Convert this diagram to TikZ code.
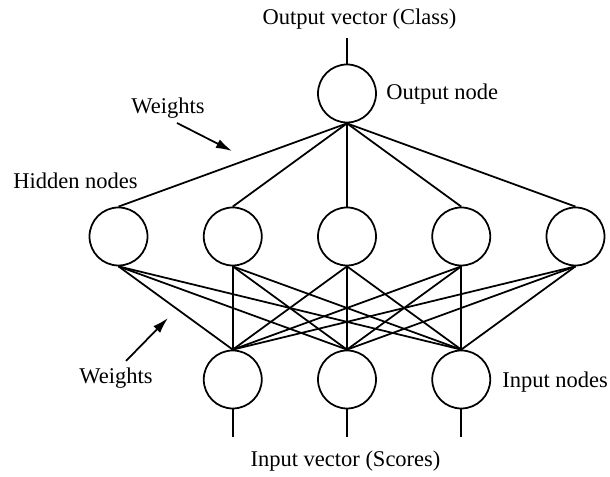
\documentclass[tikz,border=0pt]{standalone}
\usepackage{fontspec}
\setmainfont{Liberation Serif}
\usetikzlibrary{arrows.meta}

\tikzset{
  neuron/.style={draw, circle, line width=1pt, minimum size=1.16cm, inner sep=0pt},
  wire/.style={line width=1pt},
  lbl/.style={inner sep=0pt, font=\fontsize{12.8}{15}\selectfont},
  pointer/.style={line width=1pt, -{Latex[length=3.2mm,width=1.9mm]}}
}

\begin{document}
\begin{tikzpicture}
        \useasboundingbox (0,0) rectangle (12.2,9.54);

        % Output layer
        \node[neuron] (out) at (6.94,7.67) {};
        \coordinate (outend) at (6.94,8.78);
        \draw[wire] (out.north) -- (outend);

        % Hidden layer
        \foreach \i/\x in {1/2.37, 2/4.655, 3/6.94, 4/9.225, 5/11.51} {
            \node[neuron] (h\i) at (\x,4.81) {};
            \draw[wire] (out.south) -- (h\i.north);
        }

        % Input layer
        \foreach \j/\x in {1/4.655, 2/6.94, 3/9.225} {
            \node[neuron] (in\j) at (\x,1.95) {};
            \coordinate (inend\j) at (\x,0.8);
            \draw[wire] (in\j.south) -- (inend\j);
            \foreach \i in {1,...,5}
                \draw[wire] (h\i.south) -- (in\j.north);
        }

        % Labels
        \node[lbl, anchor=base] (outvec) at (7.19,9.04) {Output vector (Class)};
        \node[lbl, anchor=base west] (outlbl) at (7.72,7.54) {Output node};
        \node[lbl, anchor=base west] (wtop) at (2.62,7.26) {Weights};
        \node[lbl, anchor=base west] (hidlbl) at (0.26,5.76) {Hidden nodes};
        \node[lbl, anchor=base west] (wbot) at (1.58,1.86) {Weights};
        \node[lbl, anchor=base west] (inlbl) at (10.04,1.78) {Input nodes};
        \node[lbl, anchor=base] (invec) at (6.91,0.2) {Input vector (Scores)};

        % Weight pointers
        \coordinate (wtopstart) at (3.54,7.08);
        \coordinate (wtoptip) at (4.64,6.52);
        \draw[pointer] (wtopstart) -- (wtoptip);
        \coordinate (wbotstart) at (2.52,2.32);
        \coordinate (wbottip) at (3.36,3.18);
        \draw[pointer] (wbotstart) -- (wbottip);
\end{tikzpicture}
\end{document}
